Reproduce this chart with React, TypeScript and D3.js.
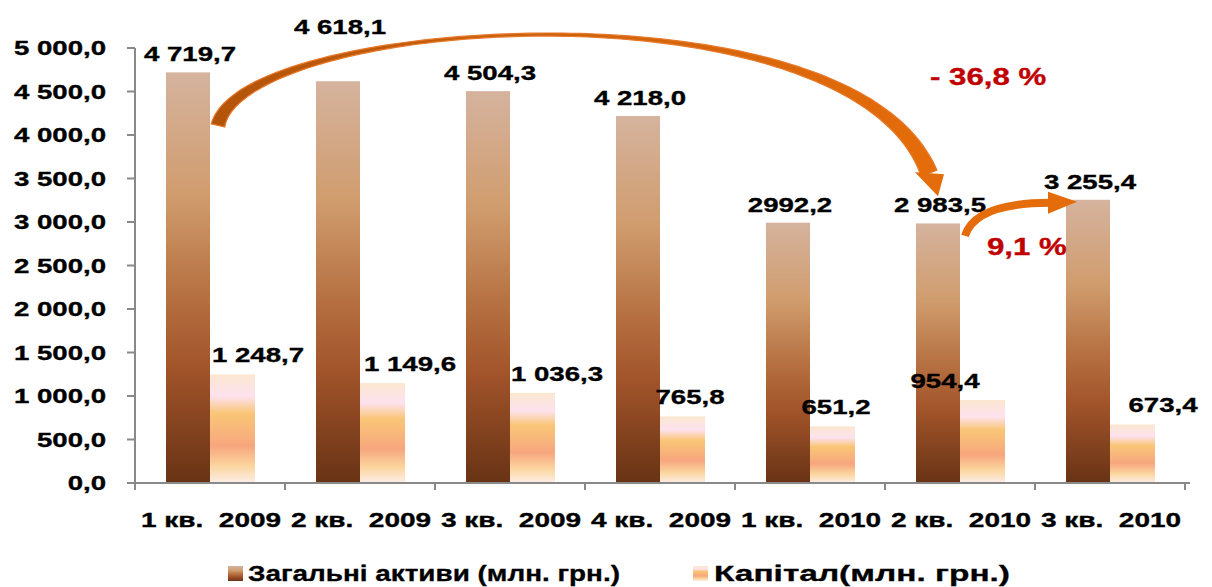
import * as d3 from 'd3';

const categories = ['1 кв.\u00a0\u00a02009', '2 кв.\u00a0\u00a02009', '3 кв.\u00a0\u00a02009', '4 кв.\u00a0\u00a02009', '1 кв.\u00a0\u00a02010', '2 кв.\u00a0\u00a02010', '3 кв.\u00a0\u00a02010'];
const assets = [4719.7, 4618.1, 4504.3, 4218.0, 2992.2, 2983.5, 3255.4];
const assetLabels = ['4 719,7', '4 618,1', '4 504,3', '4 218,0', '2992,2', '2 983,5', '3 255,4'];
const capital = [1248.7, 1149.6, 1036.3, 765.8, 651.2, 954.4, 673.4];
const capitalLabels = ['1 248,7', '1 149,6', '1 036,3', '765,8', '651,2', '954,4', '673,4'];
const yTicks = [0, 500, 1000, 1500, 2000, 2500, 3000, 3500, 4000, 4500, 5000];
const legendLabels = ['Загальні активи (млн. грн.)', 'Капітал(млн. грн.)'];
const changeLabels = ['- 36,8 %', '9,1 %'];

const W = 1212;
const H = 587;
const FONT = '"Liberation Sans", Arial, sans-serif';
const SX = 1.38;

// hand nudges for label placement (the original labels were moved around by hand)
const assetLabelDy = [0, -36, 0, 0, 0, 0, 0];
const capLabelDx = [26, 28, 25, 8, 4, -37, 31];

const fmtTick = (v: number) => {
  const s = v.toFixed(1).replace('.', ',');
  const [int, dec] = s.split(',');
  return int.replace(/\B(?=(\d{3})+(?!\d))/g, ' ') + ',' + dec;
};

function SText({ x, y, anchor = 'middle', size = 20, sx = SX, fill = '#000', children }: any) {
  return (
    <text
      transform={`translate(${x},${y}) scale(${sx},1)`}
      textAnchor={anchor}
      fontSize={size}
      fontWeight="bold"
      fontFamily={FONT}
      fill={fill}
      stroke={fill}
      strokeWidth={0.35}
      style={{ whiteSpace: 'pre' }}
    >
      {children}
    </text>
  );
}

function taperedPath(p: number[][], wFn: (t: number) => number, n = 120) {
  const [p0, p1, p2, p3] = p;
  const left: number[][] = [];
  const right: number[][] = [];
  for (let i = 0; i <= n; i++) {
    const t = i / n;
    const mt = 1 - t;
    const x = mt * mt * mt * p0[0] + 3 * mt * mt * t * p1[0] + 3 * mt * t * t * p2[0] + t * t * t * p3[0];
    const y = mt * mt * mt * p0[1] + 3 * mt * mt * t * p1[1] + 3 * mt * t * t * p2[1] + t * t * t * p3[1];
    const dx = 3 * mt * mt * (p1[0] - p0[0]) + 6 * mt * t * (p2[0] - p1[0]) + 3 * t * t * (p3[0] - p2[0]);
    const dy = 3 * mt * mt * (p1[1] - p0[1]) + 6 * mt * t * (p2[1] - p1[1]) + 3 * t * t * (p3[1] - p2[1]);
    const len = Math.hypot(dx, dy) || 1;
    const nx = -dy / len;
    const ny = dx / len;
    const w = wFn(t) / 2;
    left.push([x + nx * w, y + ny * w]);
    right.push([x - nx * w, y - ny * w]);
  }
  const pts = left.concat(right.reverse());
  return 'M' + pts.map((q) => q[0].toFixed(1) + ',' + q[1].toFixed(1)).join('L') + 'Z';
}

export default function App() {
  const x = d3.scaleBand<string>().domain(categories).range([135, 1185]).padding(0);
  const y = d3.scaleLinear().domain([0, 5000]).range([483, 48]);
  const bw = 44;
  const cx = (i: number) => (x(categories[i]) ?? 0) + x.bandwidth() / 2;

  // big arrow: from first bar to the 2 кв. 2010 bar
  const a0 = [cx(0) + 8, y(4110)];
  const a3 = [cx(5) - 31, y(3560)];
  const bigBody = taperedPath(
    [a0, [a0[0] + 25, a0[1] - 110], [a3[0] - 75, a3[1] - 196], a3],
    (t) => (t < 0.45 ? 3 + 11 * Math.pow(1 - t / 0.45, 2) : 3 + 14 * Math.pow((t - 0.45) / 0.55, 2))
  );
  const bigHead = `M${a3[0] - 14},${a3[1] - 1}L${a3[0] + 15},${a3[1] + 1}L${a3[0] + 9},${a3[1] + 23}Z`;

  // small arrow: 2 кв. 2010 -> 3 кв. 2010
  const s0 = [cx(5) + 5, y(2840)];
  const s1 = [cx(6) - 60, y(3220)];
  const smallBody = `M${s0[0]},${s0[1]}Q${s0[0] + 10},${s1[1]} ${s1[0]},${s1[1]}`;
  const smallHead = `M${s1[0] - 2},${s1[1] - 11}L${s1[0] + 27},${s1[1] - 1}L${s1[0] - 2},${s1[1] + 11}Z`;

  return (
    <svg width={W} height={H} style={{ display: 'block', position: 'absolute', left: 0, top: 0 }}>
      <defs>
        <linearGradient id="gA" x1="0" y1="0" x2="0" y2="1">
          <stop offset="0" stopColor="#d5b39e" />
          <stop offset="0.3" stopColor="#d09c6d" />
          <stop offset="0.55" stopColor="#b56f40" />
          <stop offset="0.72" stopColor="#a2542a" />
          <stop offset="1" stopColor="#683315" />
        </linearGradient>
        <linearGradient id="gC" x1="0" y1="0" x2="0" y2="1">
          <stop offset="0" stopColor="#fbe7d0" />
          <stop offset="0.2" stopColor="#fde2ee" />
          <stop offset="0.36" stopColor="#f9c576" />
          <stop offset="0.5" stopColor="#f8b87a" />
          <stop offset="0.66" stopColor="#f7a67e" />
          <stop offset="0.84" stopColor="#fbd59d" />
          <stop offset="1" stopColor="#fdeee8" />
        </linearGradient>
        <linearGradient id="gArrow" gradientUnits="userSpaceOnUse" x1={a0[0]} y1="0" x2={a3[0]} y2="0">
          <stop offset="0" stopColor="#b3540a" />
          <stop offset="0.4" stopColor="#c9600b" />
          <stop offset="1" stopColor="#e46c0a" />
        </linearGradient>
      </defs>

      {/* bars */}
      {assets.map((v, i) => (
        <rect key={'a' + i} x={cx(i) - bw} y={y(v)} width={bw} height={y(0) - y(v)} fill="url(#gA)" />
      ))}
      {capital.map((v, i) => (
        <rect key={'c' + i} x={cx(i)} y={y(v)} width={bw + 1} height={y(0) - y(v)} fill="url(#gC)" />
      ))}

      {/* axes */}
      <g stroke="#898989" strokeWidth={2}>
        <line x1={135} x2={135} y1={y(5000)} y2={y(0)} />
        <line x1={127} x2={1190} y1={y(0)} y2={y(0)} />
        {yTicks.map((t) => (
          <line key={t} x1={127} x2={135} y1={y(t)} y2={y(t)} />
        ))}
        {categories.map((c) => (
          <line key={c} x1={x(c)} x2={x(c)} y1={y(0)} y2={y(0) + 7} />
        ))}
        <line x1={1185} x2={1185} y1={y(0)} y2={y(0) + 7} />
      </g>

      {yTicks.map((t) => (
        <SText key={t} x={106} y={y(t) + 7} anchor="end">
          {fmtTick(t)}
        </SText>
      ))}

      {categories.map((c, i) => (
        <SText key={c} x={cx(i) + 1} y={527} sx={1.4}>
          {c}
        </SText>
      ))}

      {/* value labels */}
      {assets.map((v, i) => (
        <SText key={'la' + i} x={cx(i) - bw / 2 + 2} y={y(v) - 11 + assetLabelDy[i]}>
          {assetLabels[i]}
        </SText>
      ))}
      {capital.map((v, i) => (
        <SText key={'lc' + i} x={cx(i) + bw / 2 + capLabelDx[i]} y={y(v) - 12}>
          {capitalLabels[i]}
        </SText>
      ))}

      {/* arrows */}
      <path d={bigBody} fill="url(#gArrow)" stroke="#e8782a" strokeWidth={1.2} />
      <path d={bigHead} fill="#e46c0a" />
      <path d={smallBody} fill="none" stroke="#e46c0a" strokeWidth={8} />
      <path d={smallHead} fill="#e46c0a" />

      <SText x={930} y={85} anchor="start" size={24} sx={1.3} fill="#c00000">
        {changeLabels[0]}
      </SText>
      <SText x={987} y={255} anchor="start" size={24} sx={1.3} fill="#c00000">
        {changeLabels[1]}
      </SText>

      {/* legend */}
      <rect x={228} y={566} width={15} height={15} fill="url(#gA)" />
      <text x={248} y={581} fontSize={22} fontWeight="bold" fontFamily={FONT} textLength={372} lengthAdjust="spacingAndGlyphs" stroke="#000" strokeWidth={0.3}>
        {legendLabels[0]}
      </text>
      <rect x={693} y={566} width={15} height={15} fill="url(#gC)" />
      <text x={714} y={581} fontSize={22} fontWeight="bold" fontFamily={FONT} textLength={296} lengthAdjust="spacingAndGlyphs" stroke="#000" strokeWidth={0.3}>
        {legendLabels[1]}
      </text>
    </svg>
  );
}
